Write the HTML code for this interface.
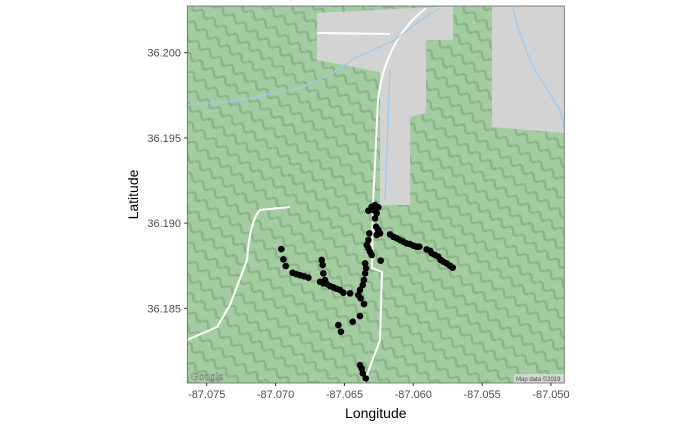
<!DOCTYPE html>
<html><head><meta charset="utf-8"><style>
body{margin:0;background:#fff;}
svg{display:block;font-family:"Liberation Sans",sans-serif;}
</style></head><body>
<svg id="chart" width="692" height="427">
<defs>
<clipPath id="clip"><rect x="187.3" y="6" width="377" height="377"/></clipPath>
<pattern id="hatch" width="14" height="14" patternUnits="userSpaceOnUse" patternTransform="rotate(35)">
<path d="M0 7 Q3.5 2 7 7 T14 7" stroke="#5f8a5d" stroke-opacity="0.35" stroke-width="2.5" fill="none"/>
</pattern>
</defs>
<g clip-path="url(#clip)">
<rect x="187.3" y="6" width="377" height="377" fill="#a3cda0"/>
<rect x="187.3" y="6" width="377" height="377" fill="url(#hatch)"/>
<g fill="#d3d3d3">
<polygon points="317,13 453,6 453,40 426,40 426,113 410,117 410,205 380,205 380,72 317,60"/>
<polygon points="492,6 565,6 565,133 492,127"/>
</g>
<g fill="none" stroke="#ffffff" stroke-width="2">
<path d="M426,8 Q385,40 378,100 L373,205 L372,268 L382,272 L380,340 L364,383"/>
<path d="M290,207 L260,210 Q250,220 247,260 L230,305 L217,327 L187,340"/>
<path d="M317,33 L390,34"/>
</g>
<g fill="none" stroke="#9ccbf0" stroke-width="1.3">
<path d="M187,105 L240,100 L300,88 L330,75 L355,58 L395,40 Q420,20 440,8"/>
<path d="M513,8 Q520,40 535,70 L560,110 L565,130"/>
<path d="M390,70 L385,200"/>
</g>
<text x="191" y="380" font-size="10" fill="#fff" stroke="#555" stroke-width="0.4">Google</text>
<rect x="514" y="374" width="50" height="9" fill="#ddd" opacity="0.8"/>
<text x="516" y="381" font-size="6" fill="#444">Map data ©2019</text>
<g id="points"></g>
</g>
<rect x="187.3" y="6" width="377" height="377" fill="none" stroke="#666" stroke-width="0.8"/>
<g id="xaxis"></g>
<g id="yaxis"></g>
<text x="375.8" y="418" font-size="14" text-anchor="middle" fill="#000">Longitude</text>
<text x="138" y="194.5" font-size="14" text-anchor="middle" fill="#000" transform="rotate(-90 138 194.5)">Latitude</text>
</svg>
<script>
const xTicks=[-87.075,-87.070,-87.065,-87.060,-87.055,-87.050];
const yTicks=[36.200,36.195,36.190,36.185];
const lons=[-87.06326,-87.06302,-87.06278,-87.06254,-87.06290,-87.06266,-87.06278,-87.06270,-87.06254,-87.06241,-87.06266,-87.06319,-87.06326,-87.06338,-87.06326,-87.06314,-87.06302,-87.06350,-87.06343,-87.06350,-87.06358,-87.06367,-87.06387,-87.06399,-87.06382,-87.06358,
-87.06169,-87.06145,-87.06120,-87.06096,-87.06072,-87.06048,-87.06024,-87.05999,-87.05975,-87.05956,-87.05903,-87.05878,-87.05866,-87.05842,-87.05818,-87.05801,-87.05782,-87.05757,-87.05733,-87.05714,-87.06237,
-87.06958,-87.06943,-87.06926,-87.06876,-87.06851,-87.06822,-87.06793,-87.06762,-87.06665,-87.06658,-87.06653,-87.06677,-87.06653,-87.06629,-87.06604,-87.06580,-87.06556,-87.06532,-87.06508,-87.06459,-87.06641,
-87.06387,-87.06440,-87.06544,-87.06525,
-87.06387,-87.06375,-87.06367,-87.06345];
const lats=[36.19073,36.19096,36.19106,36.19093,36.19077,36.19057,36.19028,36.18979,36.18960,36.18940,36.18930,36.18940,36.18901,36.18872,36.18852,36.18832,36.18813,36.18764,36.18735,36.18705,36.18666,36.18637,36.18608,36.18578,36.18559,36.18525,
36.18934,36.18920,36.18911,36.18901,36.18891,36.18881,36.18877,36.18868,36.18862,36.18862,36.18846,36.18838,36.18823,36.18813,36.18803,36.18784,36.18774,36.18764,36.18750,36.18739,36.18780,
36.18848,36.18787,36.18748,36.18709,36.18701,36.18694,36.18688,36.18680,36.18784,36.18754,36.18705,36.18656,36.18647,36.18643,36.18631,36.18623,36.18615,36.18608,36.18592,36.18588,36.18666,
36.18455,36.18422,36.18402,36.18363,
36.18167,36.18148,36.18119,36.18089];
const NS="http://www.w3.org/2000/svg";
const xS=v=>206.7+(v+87.075)*13772;
const yS=v=>52.7-(v-36.2)*17044;
const pts=document.getElementById('points');
for(let i=0;i<lons.length;i++){
  const c=document.createElementNS(NS,'circle');
  c.setAttribute('cx',xS(lons[i]));c.setAttribute('cy',yS(lats[i]));c.setAttribute('r',3.3);c.setAttribute('fill','#000');
  
  
  pts.appendChild(c);
}
const xa=document.getElementById('xaxis');
xTicks.forEach(t=>{
  const l=document.createElementNS(NS,'line');
  l.setAttribute('x1',xS(t));l.setAttribute('x2',xS(t));l.setAttribute('y1',383);l.setAttribute('y2',386);l.setAttribute('stroke','#333');
  
  
  xa.appendChild(l);
  const tx=document.createElementNS(NS,'text');
  tx.setAttribute('x',xS(t));tx.setAttribute('y',398);tx.setAttribute('font-size','11');tx.setAttribute('fill','#4d4d4d');tx.setAttribute('text-anchor','middle');
  tx.textContent=t.toFixed(3);
  
  
  xa.appendChild(tx);
});
const ya=document.getElementById('yaxis');
yTicks.forEach(t=>{
  const l=document.createElementNS(NS,'line');
  l.setAttribute('x1',184.3);l.setAttribute('x2',187.3);l.setAttribute('y1',yS(t));l.setAttribute('y2',yS(t));l.setAttribute('stroke','#333');
  
  
  ya.appendChild(l);
  const tx=document.createElementNS(NS,'text');
  tx.setAttribute('x',181);tx.setAttribute('y',yS(t)+4);tx.setAttribute('font-size','11');tx.setAttribute('fill','#4d4d4d');tx.setAttribute('text-anchor','end');
  tx.textContent=t.toFixed(3);
  
  
  ya.appendChild(tx);
});
</script>
</body></html>
